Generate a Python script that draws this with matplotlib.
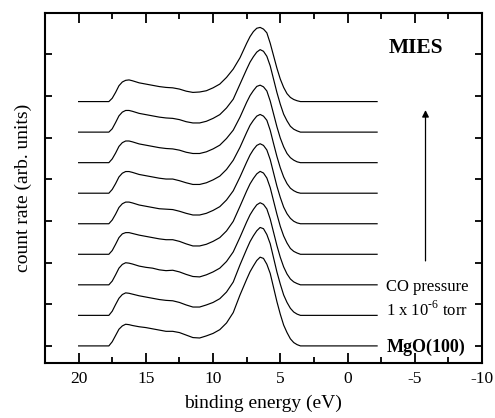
import matplotlib
matplotlib.use("Agg")
import matplotlib.pyplot as plt

# Spektren MIES, MgO(100) unter CO-Druck (von unten nach oben)
energy = [20.0, 17.75, 17.5, 17.25, 17.0, 16.75, 16.5, 16.25, 16.0, 15.5, 15.0,
          14.5, 14.0, 13.5, 13.0, 12.5, 12.0, 11.5, 11.0, 10.5, 10.0, 9.5, 9.0,
          8.5, 8.0, 7.5, 7.25, 7.0, 6.75, 6.5, 6.25, 6.0, 5.75, 5.5, 5.25, 5.0,
          4.75, 4.5, 4.25, 4.0, 3.75, 3.5, -2.2]

spec0 = [0, 0, 0.10, 0.25, 0.40, 0.48, 0.52, 0.51, 0.49, 0.46, 0.44, 0.41, 0.38, 0.35, 0.35, 0.32, 0.26, 0.20, 0.19, 0.24, 0.30, 0.39, 0.55,
         0.80, 1.22, 1.60, 1.78, 1.92, 2.05, 2.13, 2.10, 1.96, 1.74, 1.40, 1.06, 0.76, 0.50, 0.32, 0.17, 0.08, 0.03, 0, 0]
spec1 = [0, 0, 0.10, 0.26, 0.41, 0.50, 0.54, 0.53, 0.51, 0.47, 0.44, 0.41, 0.38, 0.36, 0.35, 0.31, 0.25, 0.20, 0.20, 0.25, 0.31, 0.40, 0.56,
         0.80, 1.21, 1.59, 1.77, 1.91, 2.03, 2.11, 2.08, 1.94, 1.72, 1.38, 1.04, 0.75, 0.49, 0.31, 0.17, 0.08, 0.03, 0, 0]
spec2 = [0, 0, 0.09, 0.24, 0.40, 0.49, 0.53, 0.52, 0.50, 0.45, 0.42, 0.40, 0.36, 0.34, 0.35, 0.31, 0.25, 0.20, 0.19, 0.24, 0.31, 0.40, 0.56,
         0.79, 1.14, 1.51, 1.68, 1.81, 1.92, 1.97, 1.93, 1.82, 1.58, 1.26, 0.94, 0.66, 0.43, 0.26, 0.14, 0.07, 0.03, 0, 0]
spec3 = [0, 0, 0.09, 0.24, 0.40, 0.49, 0.52, 0.52, 0.50, 0.46, 0.43, 0.40, 0.37, 0.35, 0.35, 0.31, 0.25, 0.20, 0.20, 0.24, 0.31, 0.40, 0.56,
         0.79, 1.15, 1.52, 1.69, 1.82, 1.93, 1.99, 1.95, 1.83, 1.60, 1.28, 0.96, 0.67, 0.44, 0.27, 0.14, 0.07, 0.03, 0, 0]
spec4 = [0, 0, 0.09, 0.23, 0.39, 0.48, 0.52, 0.52, 0.50, 0.45, 0.42, 0.39, 0.36, 0.35, 0.34, 0.30, 0.25, 0.21, 0.21, 0.25, 0.32, 0.41, 0.57,
         0.79, 1.12, 1.48, 1.65, 1.78, 1.88, 1.92, 1.88, 1.77, 1.54, 1.22, 0.90, 0.63, 0.40, 0.24, 0.13, 0.06, 0.02, 0, 0]
spec5 = [0, 0, 0.09, 0.23, 0.39, 0.48, 0.52, 0.52, 0.50, 0.45, 0.42, 0.39, 0.36, 0.34, 0.34, 0.30, 0.25, 0.21, 0.21, 0.25, 0.32, 0.41, 0.57,
         0.79, 1.10, 1.46, 1.63, 1.75, 1.85, 1.89, 1.85, 1.75, 1.51, 1.19, 0.88, 0.61, 0.39, 0.23, 0.12, 0.06, 0.02, 0, 0]
spec6 = [0, 0, 0.09, 0.23, 0.39, 0.48, 0.52, 0.52, 0.50, 0.45, 0.42, 0.39, 0.36, 0.34, 0.33, 0.30, 0.25, 0.22, 0.22, 0.26, 0.33, 0.42, 0.58,
         0.78, 1.09, 1.45, 1.61, 1.73, 1.83, 1.86, 1.82, 1.72, 1.48, 1.17, 0.86, 0.59, 0.38, 0.22, 0.12, 0.06, 0.02, 0, 0]
spec7 = [0, 0, 0.08, 0.23, 0.39, 0.48, 0.52, 0.52, 0.50, 0.45, 0.42, 0.39, 0.36, 0.34, 0.33, 0.30, 0.25, 0.22, 0.22, 0.26, 0.33, 0.42, 0.58,
         0.79, 1.15, 1.51, 1.68, 1.81, 1.92, 1.98, 1.94, 1.82, 1.59, 1.27, 0.95, 0.67, 0.43, 0.27, 0.14, 0.07, 0.03, 0, 0]
spec8 = [0, 0, 0.08, 0.22, 0.38, 0.47, 0.51, 0.52, 0.50, 0.45, 0.42, 0.39, 0.36, 0.34, 0.33, 0.30, 0.25, 0.22, 0.23, 0.26, 0.33, 0.42, 0.58,
         0.78, 1.05, 1.40, 1.56, 1.68, 1.76, 1.78, 1.74, 1.65, 1.40, 1.10, 0.80, 0.54, 0.34, 0.19, 0.10, 0.05, 0.02, 0, 0]

spectra = [spec0, spec1, spec2, spec3, spec4, spec5, spec6, spec7, spec8]
offset_step = 0.733

# Schrift wie im Original (Times-artig)
plt.rcParams['font.family'] = ['Liberation Serif', 'DejaVu Serif']
plt.rcParams['mathtext.fontset'] = 'custom'
plt.rcParams['mathtext.rm'] = 'Liberation Serif'
plt.rcParams['axes.unicode_minus'] = False

fig = plt.figure(figsize=(4.95, 4.18), dpi=100)
ax = fig.add_axes([0.0909, 0.1316, 0.8828, 0.8373])

for i, spec in enumerate(spectra):
    y = [v + i * offset_step for v in spec]
    ax.plot(energy, y, color='black', lw=0.85)

ax.set_xlim(22.5, -10)
ax.set_ylim(-0.41, 7.99)
ax.set_xticks([20, 15, 10, 5, 0, -5, -10])
ax.set_xticks([17.5, 12.5, 7.5, 2.5, -2.5, -7.5], minor=True)
ax.set_yticks(range(0, 8))
ax.tick_params(axis='both', which='both', direction='in', top=True, right=True,
               width=1.3, labelsize=12.5)
ax.tick_params(axis='x', which='major', length=7, pad=6)
ax.tick_params(axis='x', which='minor', length=4)
ax.tick_params(axis='y', which='major', length=5, labelleft=False)
for s in ax.spines.values():
    s.set_linewidth(1.5)

ax.set_xlabel('binding energy (eV)', fontsize=14, labelpad=5)
ax.set_ylabel('count rate (arb. units)', fontsize=14, labelpad=9)

ax.text(-5.1, 7.15, 'MIES', fontsize=15.5, fontweight='bold', ha='center', va='center')
ax.annotate('', xy=(-5.8, 5.66), xytext=(-5.8, 2.04),
            arrowprops=dict(arrowstyle='-|>', color='black', lw=0.9,
                            mutation_scale=10, shrinkA=0, shrinkB=0))
ax.text(-2.84, 1.41, 'CO pressure', fontsize=12, ha='left', va='center')
ax.text(-2.84, 0.86, r'1 x 10$^{\text{-6}}$ torr', fontsize=12, ha='left', va='center')
ax.text(-2.89, -0.04, 'MgO(100)', fontsize=13, fontweight='bold', ha='left', va='center')

fig.savefig('out.png', dpi=100)
